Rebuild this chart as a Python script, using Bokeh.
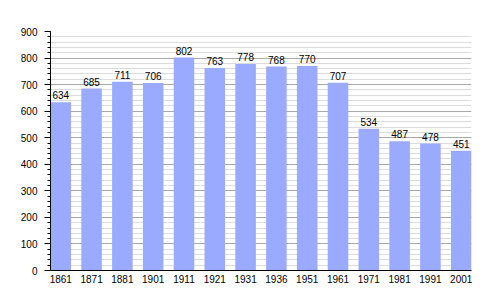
from bokeh.plotting import figure
from bokeh.models import Range1d, FixedTicker, ColumnDataSource
from bokeh.embed import file_html
from bokeh.resources import INLINE
from bokeh.core.properties import value

years = ["1861", "1871", "1881", "1901", "1911", "1921", "1931",
         "1936", "1951", "1961", "1971", "1981", "1991", "2001"]
population = [634, 685, 711, 706, 802, 763, 778, 768, 770, 707, 534, 487, 478, 451]
y_major_ticks = [0, 100, 200, 300, 400, 500, 600, 700, 800, 900]
y_minor_ticks = list(range(0, 901, 20))

xs = list(range(len(years)))
src = ColumnDataSource(dict(x=xs, top=population, label=[str(v) for v in population]))

BAR_W = 0.667
FONT = "Liberation Sans"

p = figure(width=500, height=300, output_backend="svg", toolbar_location=None,
           x_range=Range1d(-BAR_W / 2, len(years) - 1 + BAR_W / 2),
           y_range=Range1d(0, 900),
           min_border_left=50, min_border_right=29, min_border_top=31, min_border_bottom=30)
p.outline_line_color = None
p.background_fill_color = "white"
p.border_fill_color = "white"

# grid
p.xgrid.visible = False
p.ygrid.ticker = FixedTicker(ticks=y_major_ticks, minor_ticks=y_minor_ticks)
p.ygrid.grid_line_color = "#a8a8a8"
p.ygrid.grid_line_width = 1
p.ygrid.minor_grid_line_color = "#dcdcdc"
p.ygrid.minor_grid_line_width = 1

p.vbar(x="x", top="top", width=BAR_W, bottom=0, source=src,
       fill_color="#99aaff", line_color=None)

p.text(x="x", y="top", text="label", source=src, text_align="center",
       text_baseline="bottom", y_offset=-3, text_font=value(FONT),
       text_font_size="10px", text_color="black")

# y axis
p.yaxis.ticker = FixedTicker(ticks=y_major_ticks, minor_ticks=y_minor_ticks)
p.yaxis.axis_line_color = "black"
p.yaxis.major_tick_out = 6
p.yaxis.major_tick_in = 0
p.yaxis.minor_tick_out = 3
p.yaxis.minor_tick_in = 0
p.yaxis.major_tick_line_color = "black"
p.yaxis.minor_tick_line_color = "black"
p.yaxis.major_label_standoff = 7
p.yaxis.major_label_text_font = FONT
p.yaxis.major_label_text_font_size = "10px"
p.yaxis.major_label_text_color = "black"

# x axis
p.xaxis.ticker = FixedTicker(ticks=xs)
p.xaxis.major_label_overrides = {i: y for i, y in zip(xs, years)}
p.xaxis.axis_line_color = "black"
p.xaxis.major_tick_line_color = None
p.xaxis.minor_tick_line_color = None
p.xaxis.major_tick_out = 0
p.xaxis.major_tick_in = 0
p.xaxis.major_label_standoff = 4
p.xaxis.major_label_text_font = FONT
p.xaxis.major_label_text_font_size = "10px"
p.xaxis.major_label_text_color = "black"

open("out.html", "w").write(file_html(p, INLINE))
